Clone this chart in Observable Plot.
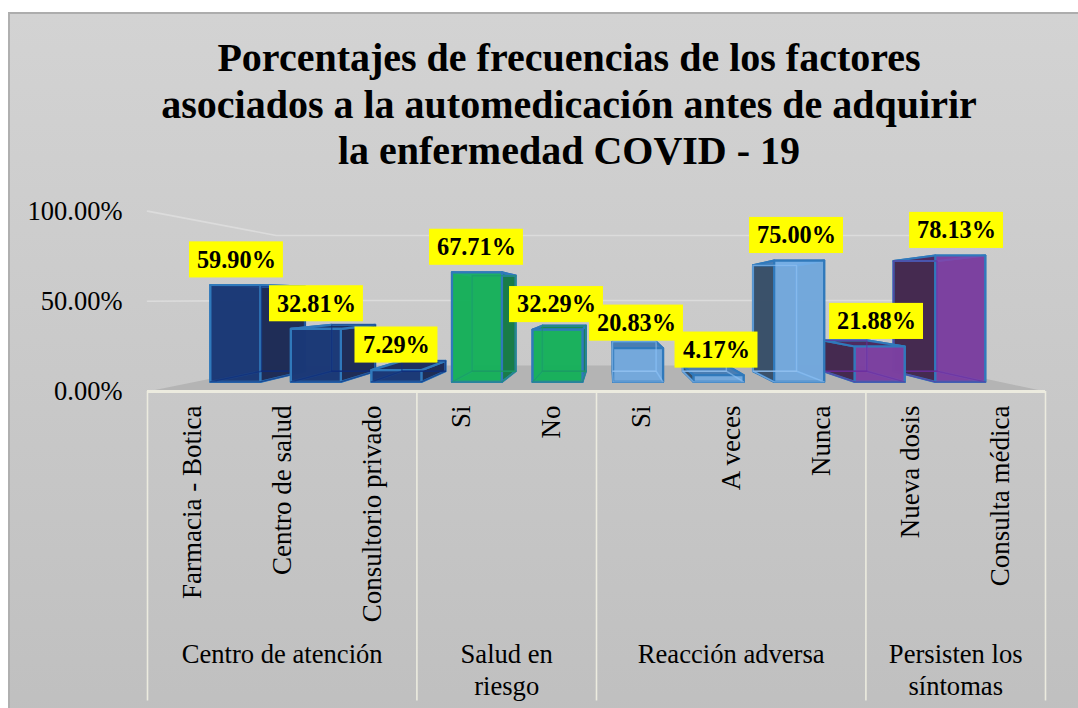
<!DOCTYPE html>
<html lang="es">
<head>
<meta charset="utf-8">
<script src="https://cdn.jsdelivr.net/npm/d3@7"></script>
<script src="https://cdn.jsdelivr.net/npm/@observablehq/plot@0.6"></script>
<style>
  html, body { margin: 0; padding: 0; background: #fff; }
  #frame { position: relative; width: 1078px; height: 708px; overflow: hidden; }
  #panel { position: absolute; left: 8px; top: 12px; width: 1090px; height: 720px;
           border-left: 2px solid #b0b0b0; border-top: 2px solid #adadad; box-sizing: border-box;
           background: linear-gradient(180deg, #d3d3d3 0%, #bfbfbf 100%); }
  #title { position: absolute; left: 0; top: 35px; width: 1138px; text-align: center;
           font: bold 40px/46.5px "Liberation Serif", serif; color: #000; }
  #chart { position: absolute; left: 0; top: 190px; }
  #chart svg { background: transparent; overflow: visible; }
</style>
</head>
<body>
<div id="frame">
  <div id="panel"></div>
  <div id="title">Porcentajes de frecuencias de los factores<br>asociados a la automedicación antes de adquirir<br>la enfermedad COVID - 19</div>
  <div id="chart"></div>
</div>
<script>
const categories = ["Farmacia - Botica","Centro de salud","Consultorio privado","Si","No","Si","A veces","Nunca","Nueva dosis","Consulta médica"];
const values = [59.90,32.81,7.29,67.71,32.29,20.83,4.17,75.00,21.88,78.13];
const groups = ["Centro de atención","Salud en\nriesgo","Reacción adversa","Persisten los\nsíntomas"];
const groupSizes = [3,2,3,2];
const yTicks = [0,50,100];

const palette = [
  {front:"#1a3a7c", side:"#1e2c56", top:"#1c3060", inner:"#0d2a78"},
  {front:"#18b85e", side:"#187c48", top:"#1a8a50", inner:"#1a9a60"},
  {front:"#7cb4ec", side:"#3a5069", top:"#4a80b8", inner:"#94c2f0"},
  {front:"#8444ac", side:"#44294f", top:"#4e2a60", inner:"#6a2a9c"}
];
const edge = "#3079bb";

// perspective inside the chart's data space
const V = {x:5.14, y:51.6};
const T = {front:0.103, back:0.218, wall:0.279};
const HALF = 0.31;
const P = (x,y,t) => ({x: x+(V.x-x)*t, y: y+(V.y-y)*t});

const groupOf = [];
groupSizes.forEach((n,g)=>{ for(let k=0;k<n;k++) groupOf.push(g); });

// boundaries of groups on the category axis
const bounds = d3.cumsum([0,...groupSizes]);

// faces of each column, painted from the outer columns towards the centre
const order = [0,1,2,3,4,9,8,7,6,5];
const faces = [];
order.forEach(i=>{
  const c=i+0.5, v=values[i], pal=palette[groupOf[i]];
  const f=(x,y)=>P(x,y,T.front), b=(x,y)=>P(x,y,T.back);
  const L=c-HALF, R=c+HALF;
  const sets = [
    ["back", pal.side, 0.9, [b(L,0),b(R,0),b(R,v),b(L,v)], edge, 1.6, 1],
    ["bottom", pal.side, 0.9, [f(L,0),f(R,0),b(R,0),b(L,0)], edge, 1.6, 1],
    ["left", pal.side, 0.92, [f(L,0),b(L,0),b(L,v),f(L,v)], edge, 2.2, 1],
    ["right", pal.side, 0.92, [f(R,0),b(R,0),b(R,v),f(R,v)], edge, 2.2, 1],
    ["top", pal.top, 0.92, [f(L,v),f(R,v),b(R,v),b(L,v)], edge, 2.2, 1],
    ["front", pal.front, 0.86, [f(L,0),f(R,0),f(R,v),f(L,v)], edge, 2.2, 1],
    ["innerBack", "none", 0, [b(L,0),b(R,0),b(R,v),b(L,v)], pal.inner, 1.4, 0.6],
    ["innerBottom", "none", 0, [f(L,0),f(R,0),b(R,0),b(L,0)], pal.inner, 1.4, 0.6]
  ];
  sets.forEach(([name,fill,op,pts,stroke,sw,so])=>{
    pts.forEach(p=>faces.push({...p, face:i+name, fill, op, stroke, sw, so}));
  });
});

// floor and walls
const floor = [P(0,0,0),P(10,0,0),P(10,0,T.wall),P(0,0,T.wall)];
const grid = yTicks.filter(d=>d>0).flatMap(v=>[
  {...P(0,v,0),v},{...P(0,v,T.wall),v},{...P(10,v,T.wall),v}
]);

const labels = values.map((v,i)=>{
  const top = P(i+0.5,v,T.front).y + 13.9;
  const text = v.toFixed(2)+"%";
  const half = text.length===6 ? 0.523 : 0.462;
  const x = (i+0.5)*0.891 + 0.545;
  return {x, y:top, text, x1:x-half, x2:x+half, y1:top-10, y2:top+10};
});

const catRows = categories.map((name,i)=>({name,x:i+0.5}));
const groupRows = groups.map((name,g)=>({name,x:(bounds[g]+bounds[g+1])/2}));

const serif = "Liberation Serif, serif";
const axisColor = "#ecebdf";

const plot = Plot.plot({
  width:1078, height:518,
  marginLeft:147, marginRight:33, marginTop:20.6, marginBottom:317,
  style:{background:"transparent", fontFamily:serif},
  x:{domain:[0,10], axis:null},
  y:{domain:[0,100], axis:null},
  color:{type:"identity"},
  marks:[
    Plot.line(floor,{x:"x",y:"y",curve:"linear-closed",fill:"#b4b4b4",stroke:"none"}),
    Plot.line(grid,{x:"x",y:"y",z:"v",stroke:"#dcdcdc",strokeWidth:1.6}),
    Plot.line(faces,{x:"x",y:"y",z:"face",curve:"linear-closed",fill:"fill",fillOpacity:"op",stroke:"stroke",strokeWidth:"sw",strokeOpacity:"so",strokeLinejoin:"round"}),
    Plot.ruleY([0],{x1:0,x2:10,stroke:axisColor,strokeWidth:3}),
    Plot.ruleX(bounds,{y1:0,y2:-171.5,stroke:axisColor,strokeWidth:1.6}),
    Plot.axisY(yTicks,{anchor:"left",tickSize:0,tickPadding:25,label:null,tickFormat:d=>d.toFixed(2)+"%",fontSize:26.5,fontFamily:serif,fill:"#000"}),
    Plot.text(catRows,{x:"x",y:0,dy:14,text:"name",rotate:-90,textAnchor:"end",lineAnchor:"middle",fontSize:27,fontFamily:serif,fill:"#000"}),
    Plot.text(groupRows,{x:"x",y:0,dy:249,text:"name",lineAnchor:"top",lineHeight:1.2,fontSize:26.6,fontFamily:serif,fill:"#000"}),
    Plot.rect(labels,{x1:"x1",x2:"x2",y1:"y1",y2:"y2",fill:"#ffff00"}),
    Plot.text(labels,{x:"x",y:"y",text:"text",lineAnchor:"middle",fontSize:24.3,fontWeight:"bold",fontFamily:serif,fill:"#000"})
  ]
});
document.getElementById("chart").append(plot);
</script>
</body>
</html>
